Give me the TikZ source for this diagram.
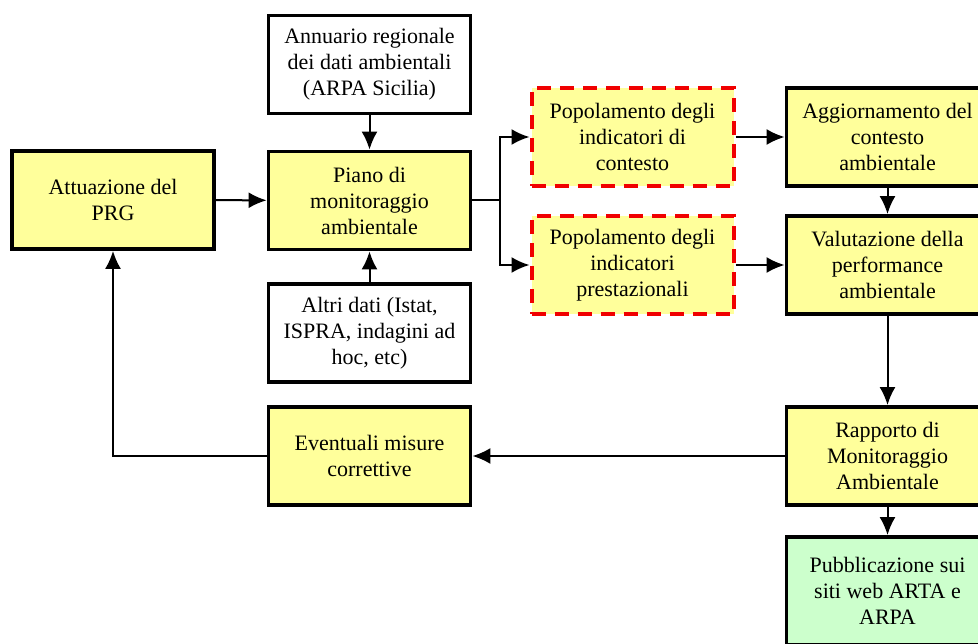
\documentclass[tikz,border=0pt]{standalone}
\usepackage{fontspec}
\setmainfont{Liberation Serif}
\usetikzlibrary{arrows.meta}

\definecolor{boxyellow}{RGB}{255,255,155}
\definecolor{boxgreen}{RGB}{204,255,204}
\definecolor{dashred}{RGB}{240,0,0}

\begin{document}
\begin{tikzpicture}[x=1pt,y=-1pt,
		box/.style={draw,line width=3.8pt,minimum width=202pt,minimum height=98pt,align=center,inner sep=0pt,font=\fontsize{22}{26}\selectfont},
		ybox/.style={box,fill=boxyellow},
		gbox/.style={box,fill=boxgreen,minimum height=108pt},
		rbox/.style={box,fill=boxyellow,draw=dashred,line width=4pt,dash pattern=on 14pt off 9pt},
		link/.style={line width=2pt,-{Latex[length=18pt,width=16pt]}}]
		
		\useasboundingbox (0,0) rectangle (978,644);
		
		% left column
		\node (att) at (113,200) [ybox] {Attuazione del\\PRG};
		\node (ann) at (369.5,64.5) [box] {Annuario regionale\\dei dati ambientali\\(ARPA Sicilia)};
		\node (piano) at (369.5,200.5) [ybox] {Piano di\\monitoraggio\\ambientale};
		\node (altri) at (369.5,333) [box] {Altri dati (Istat,\\ISPRA, indagini ad\\hoc, etc)};
		\node (ev) at (369.5,456) [ybox] {Eventuali misure\\correttive};
		
		% indicatori
		\node (pop1) at (632.5,137) [rbox] {Popolamento degli\\indicatori di\\contesto};
		\node (pop2) at (632.5,265) [rbox] {Popolamento degli\\indicatori\\prestazionali};
		
		% right column
		\node (agg) at (887.5,137) [ybox] {Aggiornamento del\\contesto\\ambientale};
		\node (val) at (887.5,265) [ybox] {Valutazione della\\performance\\ambientale};
		\node (rap) at (887.5,456) [ybox] {Rapporto di\\Monitoraggio\\Ambientale};
		\node (pub) at (887.5,591) [gbox] {Pubblicazione sui\\siti web ARTA e\\ARPA};
		
		\coordinate (split) at (500,200.5);
		
		\draw[link] (att) -- (piano);
		\draw[link] (ann) -- (piano);
		\draw[link] (altri) -- (piano);
		\draw[line width=2pt] (piano.east) -- (split);
		\draw[link] (split) |- (pop1);
		\draw[link] (split) |- (pop2);
		\draw[link] (pop1) -- (agg);
		\draw[link] (pop2) -- (val);
		\draw[link] (agg) -- (val);
		\draw[link] (val) -- (rap);
		\draw[link] (rap) -- (pub);
		\draw[link] (rap) -- (ev);
		\draw[link] (ev) -| (att);
		
	\end{tikzpicture}
\end{document}
